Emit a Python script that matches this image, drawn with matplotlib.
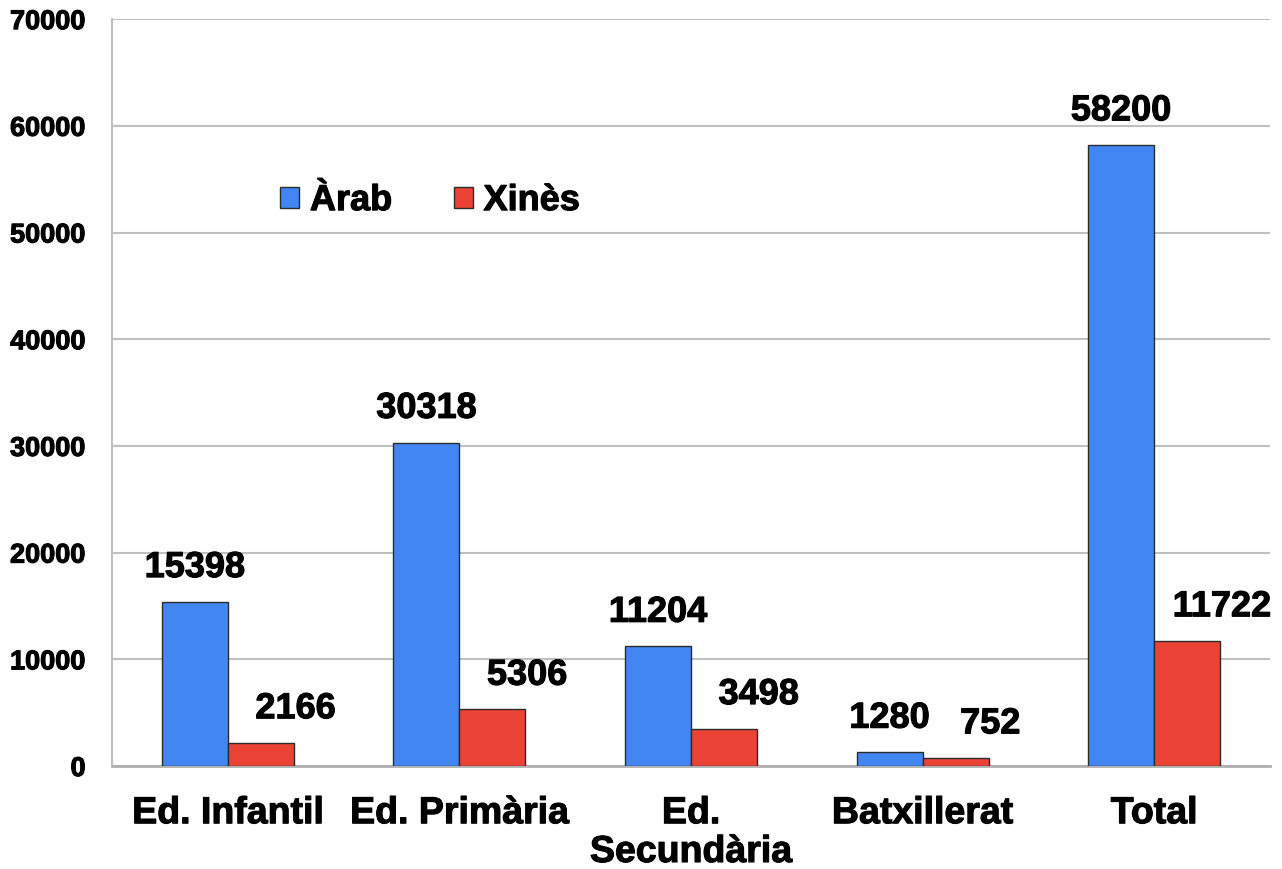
import matplotlib
matplotlib.use('Agg')
import matplotlib.pyplot as plt
import matplotlib.patheffects as pe
import numpy as np

plt.rcParams['font.family'] = ['Liberation Sans', 'DejaVu Sans']
plt.rcParams['font.weight'] = 'bold'

categories = ['Ed. Infantil', 'Ed. Primària', 'Ed.\nSecundària', 'Batxillerat', 'Total']
arab = [15398, 30318, 11204, 1280, 58200]
xines = [2166, 5306, 3498, 752, 11722]
series_names = ['Àrab', 'Xinès']
yticks = [0, 10000, 20000, 30000, 40000, 50000, 60000, 70000]

BLUE = '#4286f4'
RED = '#ea4335'
EDGE = '#2b2b2b'
heavy = [pe.withStroke(linewidth=0.8, foreground='black')]

fig = plt.figure(figsize=(12.82, 8.69), dpi=100)
ax = fig.add_axes([0.0874, 0.1185, 0.9032, 0.8595])

x = np.arange(len(categories))
w = 0.285
ax.bar(x - w / 2, arab, w, color=BLUE, edgecolor=EDGE, linewidth=1, label=series_names[0], zorder=3)
ax.bar(x + w / 2, xines, w, color=RED, edgecolor=EDGE, linewidth=1, label=series_names[1], zorder=3)

# value labels (red ones sit a bit to the right, as in the original)
for xi, v in zip(x, arab):
    ax.annotate(str(v), (xi - w / 2, v), xytext=(0, 12), textcoords='offset points',
                ha='center', va='bottom', fontsize=26, fontweight='bold', color='black',
                path_effects=heavy)
for xi, v in zip(x, xines):
    ax.annotate(str(v), (xi + w / 2 + 0.15, v), xytext=(0, 12), textcoords='offset points',
                ha='center', va='bottom', fontsize=26, fontweight='bold', color='black',
                path_effects=heavy)

ax.set_xlim(-0.5, len(categories) - 0.5)
ax.set_ylim(0, 70000)
ax.set_yticks(yticks)
ax.set_yticklabels([str(t) for t in yticks], fontsize=19.5, fontweight='bold', path_effects=heavy)
ax.set_xticks(x)
ax.set_xticklabels(categories, fontsize=27, fontweight='bold', linespacing=1.1, path_effects=heavy)
ax.tick_params(axis='both', length=0)
ax.tick_params(axis='y', pad=19)
ax.tick_params(axis='x', pad=21)

ax.grid(axis='y', color='#c0c0c0', linewidth=1.5, zorder=0)
for s in ['top', 'right']:
    ax.spines[s].set_visible(False)
ax.spines['left'].set_color('#c0c0c0')
ax.spines['left'].set_linewidth(1.5)
ax.spines['bottom'].set_color('#b0b0b0')
ax.spines['bottom'].set_linewidth(2)

leg = ax.legend(loc='center left', bbox_to_anchor=(0.145, 0.757), ncol=2, frameon=False,
                prop={'size': 26, 'weight': 'bold'}, handlelength=0.53, handleheight=0.53,
                handletextpad=0.3, columnspacing=1.7, borderaxespad=0, borderpad=0)
for t in leg.get_texts():
    t.set_path_effects(heavy)

fig.savefig('out.png', dpi=100)
